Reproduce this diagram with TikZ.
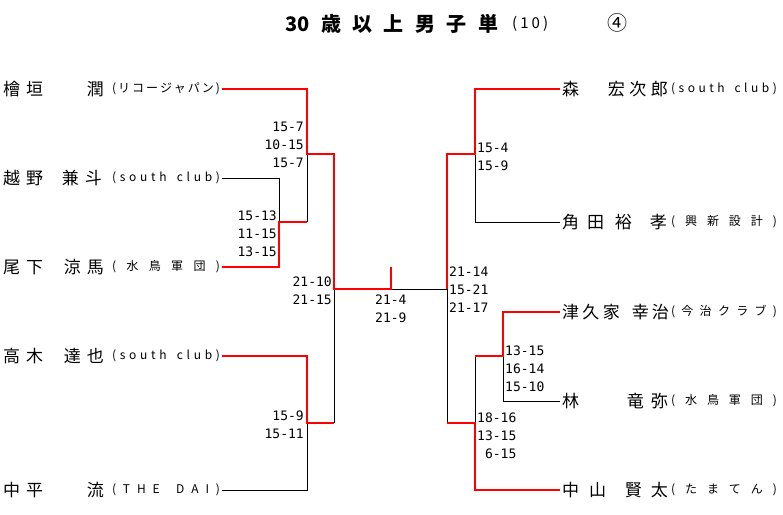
\documentclass[tikz,border=0pt]{standalone}
\usepackage{fontspec}
\setmainfont{Noto Sans CJK JP}
\newfontfamily\scorefont{DejaVu Sans Mono}
\makeatletter
\newcommand\spread[2]{\makebox[#1][s]{\let\spr@sep\relax\@tfor\spr@c:=#2\do{\spr@sep\spr@c\let\spr@sep\hfill}}}
\makeatother

\begin{document}
\begin{tikzpicture}[x=1pt, y=-1pt]
	\tikzset	{
		win/.style={draw=red, line width=2pt},
		lose/.style={draw=black, line width=1pt},
		jname/.style={inner sep=0pt, font=\fontsize{17}{17}\selectfont},
		club/.style={inner sep=0pt, outer xsep=2pt, font=\fontsize{12}{12}\selectfont},
		score/.style={inner sep=0pt, align=right, font=\scorefont\fontsize{13}{18}\selectfont},
	}
	\useasboundingbox (0,0) rectangle (783,514);

	% title
	\node[anchor=west, inner sep=0pt, font=\bfseries\fontsize{20}{20}\selectfont] (title) at (285,24) {\spread{213pt}{{30}歳以上男子単}};
	\node[anchor=west, inner sep=0pt, font=\fontsize{15}{15}\selectfont] (num) at (512,24) {\spread{36pt}{(10)}};
	\node[inner sep=0pt, font=\fontsize{20}{20}\selectfont] (block) at (617,23) {④};

	% left players
	\node[jname, anchor=west] (l1s) at (3,89) {\spread{40pt}{檜垣}};
	\node[jname, anchor=east] (l1g) at (104,89) {潤};
	\node[club, anchor=east] (l1) at (222,89) {\spread{108pt}{(リコージャパン)}};

	\node[jname, anchor=west] (l2s) at (3,178) {\spread{40pt}{越野}};
	\node[jname, anchor=east] (l2g) at (102,178) {\spread{40pt}{兼斗}};
	\node[club, anchor=east] (l2) at (222,178) {\spread{108pt}{(south~club)}};

	\node[jname, anchor=west] (l3s) at (3,267) {\spread{40pt}{尾下}};
	\node[jname, anchor=east] (l3g) at (104,267) {\spread{40pt}{涼馬}};
	\node[club, anchor=east] (l3) at (222,267) {\spread{108pt}{(水鳥軍団)}};

	\node[jname, anchor=west] (l4s) at (3,356) {\spread{40pt}{高木}};
	\node[jname, anchor=east] (l4g) at (104,356) {\spread{40pt}{達也}};
	\node[club, anchor=east] (l4) at (222,356) {\spread{108pt}{(south~club)}};

	\node[jname, anchor=west] (l5s) at (3,490) {\spread{40pt}{中平}};
	\node[jname, anchor=east] (l5g) at (104,490) {流};
	\node[club, anchor=east] (l5) at (222,490) {\spread{108pt}{(THE~DAI)}};

	% right players
	\node[jname, anchor=west, outer xsep=2pt] (r1) at (560,89) {森};
	\node[jname, anchor=east] (r1g) at (668,89) {\spread{60pt}{宏次郎}};
	\node[club, anchor=east] (r1c) at (779,89) {\spread{106pt}{(south~club)}};

	\node[jname, anchor=west, outer xsep=2pt] (r2) at (560,222) {\spread{42pt}{角田}};
	\node[jname, anchor=east] (r2g) at (667,222) {\spread{52pt}{裕孝}};
	\node[club, anchor=east] (r2c) at (779,222) {\spread{106pt}{(興新設計)}};

	\node[jname, anchor=west, outer xsep=2pt] (r3) at (560,312) {\spread{58pt}{津久家}};
	\node[jname, anchor=east] (r3g) at (669,312) {\spread{37pt}{幸治}};
	\node[club, anchor=east] (r3c) at (779,312) {\spread{106pt}{(今治クラブ)}};

	\node[jname, anchor=west, outer xsep=2pt] (r4) at (560,401) {林};
	\node[jname, anchor=east] (r4g) at (668,401) {\spread{41pt}{竜弥}};
	\node[club, anchor=east] (r4c) at (779,401) {\spread{106pt}{(水鳥軍団)}};

	\node[jname, anchor=west, outer xsep=2pt] (r5) at (560,490) {\spread{44pt}{中山}};
	\node[jname, anchor=east] (r5g) at (668,490) {\spread{43pt}{賢太}};
	\node[club, anchor=east] (r5c) at (779,490) {\spread{106pt}{(たまてん)}};

	% match points
	\coordinate (jA) at (279,222);
	\coordinate (jB) at (307,154);
	\coordinate (jC) at (307,423);
	\coordinate (jD) at (334,289);
	\coordinate (jF) at (391,289);
	\coordinate (jH) at (447,289);
	\coordinate (jE) at (475,154);
	\coordinate (jG) at (503,356);
	\coordinate (jI) at (475,423);

	\draw[lose]	(l2.east) -| (jA);
	\draw[lose]	(jB) -- (jB |- jA);
	\draw[lose]	(l5.east) -| (jC);
	\draw[lose]	(jD) -- (jD |- jC);
	\draw[lose]	(jF) -- (jH) -- (jH |- jI);
	\draw[lose]	(r2.west) -| (jE);
	\draw[lose]	(r4.west) -| (jG);
	\draw[lose]	(jI) -- (jI |- jG);

	\draw[win]	(l3.east) -| (jA) -- (jB |- jA);
	\draw[win]	(l1.east) -| (jB) -- (jD |- jB) -- (jD) -- (jF) -- ++(0,-22);
	\draw[win]	(l4.east) -| (jC) -- (jD |- jC);
	\draw[win]	(r1.west) -| (jE) -- (jH |- jE) -- (jH);
	\draw[win]	(r3.west) -| (jG) -- (jI |- jG);
	\draw[win]	(r5.west) -| (jI) -- (jH |- jI);

	% scores
	\node[score, anchor=east] (s1) at (304,144.5) {15-7\\10-15\\15-7};
	\node[score, anchor=east] (s2) at (277,234) {15-13\\11-15\\13-15};
	\node[score, anchor=east] (s3) at (332,291) {21-10\\21-15};
	\node[score, anchor=west] (s4) at (375,309) {21-4\\21-9};
	\node[score, anchor=east] (s5) at (304,425) {15-9\\15-11};
	\node[score, anchor=west] (s6) at (477,156.5) {15-4\\15-9};
	\node[score, anchor=west] (s7) at (449,290) {21-14\\15-21\\21-17};
	\node[score, anchor=west] (s8) at (505,369) {13-15\\16-14\\15-10};
	\node[score, anchor=west] (s9) at (477,436) {18-16\\13-15\\6-15};
\end{tikzpicture}
\end{document}
